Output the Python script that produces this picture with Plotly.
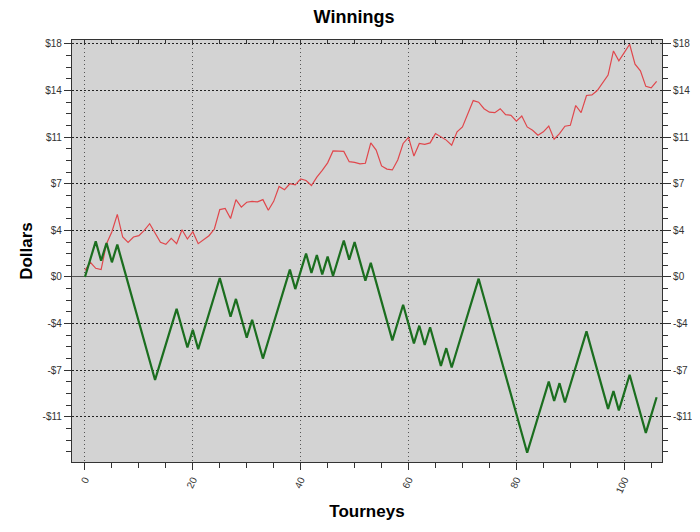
import plotly.graph_objects as go

# ---- data ----
tourneys = list(range(0, 107))

winnings_red = [
    0.5, 1.1, 0.65, 0.55, 2.5, 3.4, 4.7, 3.0, 2.6, 3.0,
    3.1, 3.5, 4.0, 3.3, 2.6, 2.45, 2.9, 2.5, 3.55, 2.85,
    3.4, 2.5, 2.8, 3.1, 3.6, 5.06, 5.14, 4.39, 5.81, 5.24,
    5.61, 5.68, 5.64, 5.81, 5.01, 5.68, 6.8, 6.55, 7.0, 6.92,
    7.37, 7.25, 6.87, 7.5, 8.0, 8.57, 9.47, 9.45, 9.43, 8.66,
    8.61, 8.49, 8.54, 10.07, 9.53, 8.34, 8.1, 8.04, 8.79, 10.03,
    10.48, 9.08, 10.03, 9.96, 10.07, 10.77, 10.52, 10.28, 9.9, 10.9,
    11.27, 12.26, 13.25, 13.13, 12.64, 12.38, 12.34, 12.64, 12.19, 12.14,
    11.71, 12.09, 11.27, 11.02, 10.65, 10.9, 11.34, 10.35, 10.77, 11.32,
    11.39, 12.88, 12.34, 13.63, 13.68, 14.0, 14.62, 15.17, 16.98, 16.23,
    16.85, 17.48, 15.99, 15.49, 14.32, 14.2, 14.69,
]

winnings_green = [
    0.0, 1.34, 2.67, 1.22, 2.55, 1.10, 2.43, 0.98, -0.47, -1.93,
    -3.38, -4.83, -6.28, -7.74, -6.40, -5.07, -3.73, -2.40, -3.85, -5.30,
    -3.97, -5.42, -4.09, -2.75, -1.42, -0.08, -1.53, -2.99, -1.65, -3.11,
    -4.56, -3.22, -4.68, -6.13, -4.79, -3.46, -2.12, -0.79, 0.55, -0.91,
    0.43, 1.76, 0.31, 1.65, 0.19, 1.53, 0.07, 1.41, 2.74, 1.29,
    2.63, 1.17, -0.28, 1.06, -0.40, -1.85, -3.30, -4.76, -3.42, -2.09,
    -3.54, -4.99, -3.66, -5.11, -3.78, -5.23, -6.68, -5.35, -6.80, -5.47,
    -4.13, -2.80, -1.46, -0.13, -1.58, -3.03, -4.48, -5.94, -7.39, -8.84,
    -10.30, -11.75, -13.20, -11.87, -10.53, -9.20, -7.86, -9.32, -7.98, -9.43,
    -8.10, -6.76, -5.43, -4.09, -5.55, -7.00, -8.45, -9.91, -8.57, -10.02,
    -8.69, -7.35, -8.81, -10.26, -11.71, -10.38, -9.04,
]

y_tick_vals = [-10.5, -7.0, -3.5, 0.0, 3.5, 7.0, 10.5, 14.0, 17.5]
y_tick_text = ["-$11", "-$7", "-$4", "$0", "$4", "$7", "$11", "$14", "$18"]

title_text = "Winnings"
x_title = "Tourneys"
y_title = "Dollars"

FONT = "Arial, Liberation Sans, sans-serif"
TICKFONT = dict(family=FONT, size=10, color="#333333")

fig = go.Figure()
fig.add_trace(go.Scatter(x=tourneys, y=winnings_red, mode="lines",
                         line=dict(color="#e0474c", width=1.2),
                         showlegend=False, hoverinfo="skip"))
fig.add_trace(go.Scatter(x=tourneys, y=winnings_green, mode="lines",
                         line=dict(color="#1b6e1f", width=2.2),
                         showlegend=False, hoverinfo="skip"))
# helper trace so the mirrored axes are drawn
fig.add_trace(go.Scatter(x=[tourneys[0]], y=[winnings_green[0]], xaxis="x2", yaxis="y2",
                         mode="markers", marker=dict(opacity=0),
                         showlegend=False, hoverinfo="skip"))

xrange = [-2.4, 107.0]
yrange = [-13.9, 17.8]

# the page body adds an 8px offset, so the figure is 692x524
fig.update_layout(
    width=692, height=524,
    margin=dict(l=64, r=38, t=32, b=70, autoexpand=False),
    paper_bgcolor="white",
    plot_bgcolor="#d3d3d3",
    title=dict(text="<b>" + title_text + "</b>", x=0.5, xanchor="center",
               y=0.983, yanchor="middle", yref="container",
               font=dict(family=FONT, size=18, color="black")),
    xaxis=dict(
        range=xrange, dtick=20, tick0=0, automargin=False,
        showline=True, linecolor="#333333", linewidth=1.2,
        ticks="outside", ticklen=7, tickcolor="#333333", tickwidth=1,
        tickangle=-65, tickfont=TICKFONT,
        showgrid=True, gridcolor="#555555", griddash="1px,3px", gridwidth=1,
        zeroline=False,
        minor=dict(dtick=5, tick0=0, ticks="outside", ticklen=5,
                   tickcolor="#333333", showgrid=False),
        title=dict(text="<b>" + x_title + "</b>", standoff=10,
                   font=dict(family=FONT, size=17, color="black")),
    ),
    xaxis2=dict(
        range=xrange, overlaying="x", side="top", matches="x", automargin=False,
        dtick=20, tick0=0,
        showline=True, linecolor="#333333", linewidth=1.2,
        ticks="inside", ticklen=5, tickcolor="#333333",
        showticklabels=False, showgrid=False, zeroline=False,
        minor=dict(dtick=5, tick0=0, ticks="inside", ticklen=4,
                   tickcolor="#333333", showgrid=False),
    ),
    yaxis=dict(
        range=yrange, tickmode="array", tickvals=y_tick_vals, ticktext=y_tick_text,
        automargin=False,
        showline=True, linecolor="#333333", linewidth=1.2,
        ticks="outside", ticklen=7, tickcolor="#333333", tickwidth=1,
        tickfont=TICKFONT,
        showgrid=True, gridcolor="#222222", griddash="2px,2px", gridwidth=1,
        zeroline=True, zerolinecolor="#555555", zerolinewidth=1.2,
        minor=dict(dtick=0.875, tick0=0, ticks="outside", ticklen=5,
                   tickcolor="#333333", showgrid=False),
        title=dict(text="<b>" + y_title + "</b>", standoff=5,
                   font=dict(family=FONT, size=17, color="black")),
    ),
    yaxis2=dict(
        range=yrange, overlaying="y", side="right", matches="y",
        automargin=False,
        tickmode="array", tickvals=y_tick_vals, ticktext=y_tick_text,
        showline=True, linecolor="#333333", linewidth=1.2,
        ticks="outside", ticklen=8, tickcolor="#333333",
        tickfont=TICKFONT, showgrid=False, zeroline=False,
        minor=dict(dtick=0.875, tick0=0, ticks="outside", ticklen=5,
                   tickcolor="#333333", showgrid=False),
    ),
)

fig.write_html("out.html")
